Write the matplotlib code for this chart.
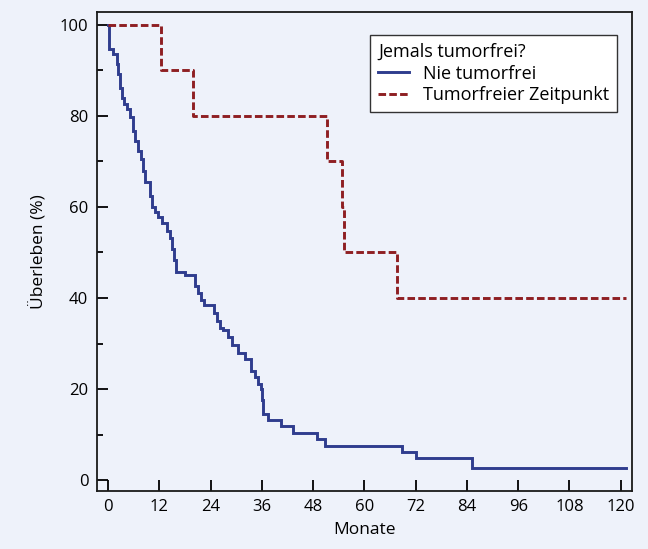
import matplotlib
matplotlib.use("Agg")
import matplotlib.pyplot as plt
from matplotlib.ticker import MultipleLocator

plt.rcParams['font.family'] = ['Open Sans', 'DejaVu Sans']

# Kaplan-Meier survival (%) by month
never_months = [0, 0.3, 1.2, 2.0, 2.4, 2.8, 3.2, 3.7, 4.4, 5.1, 5.9, 6.3, 7.0, 7.8,
                8.2, 8.6, 9.8, 10.2, 11.0, 11.8, 12.6, 13.9, 14.4, 14.9, 15.4, 15.9,
                18.0, 20.3, 21.0, 21.8, 22.4, 24.8, 25.5, 26.3, 27.0, 28.2, 29.0,
                30.4, 32.0, 33.5, 34.4, 35.2, 35.7, 36.0, 36.3, 37.4, 40.6, 43.3,
                48.9, 50.8, 68.7, 72.0, 85.3, 121.2]
never_surv = [100, 94.7, 93.6, 91.4, 89.2, 86.2, 84.0, 82.6, 81.5, 79.7, 76.8, 74.5,
              72.4, 70.5, 68.0, 65.4, 62.5, 60.0, 59.0, 57.8, 56.4, 54.7, 53.2, 50.8,
              48.4, 45.7, 45.0, 42.6, 41.0, 39.5, 38.5, 36.7, 35.0, 33.5, 32.9, 31.4,
              29.6, 27.9, 26.7, 24.0, 22.6, 21.2, 20.0, 17.5, 14.6, 13.3, 11.8, 10.4,
              9.1, 7.5, 6.1, 4.8, 2.6, 2.6]

free_months = [0, 12.3, 19.8, 51.2, 54.8, 55.2, 67.6, 121.2]
free_surv = [100, 90, 80, 70, 60, 50, 40, 40]

x_ticks = [0, 12, 24, 36, 48, 60, 72, 84, 96, 108, 120]
y_ticks = [0, 20, 40, 60, 80, 100]

labels = ["Nie tumorfrei", "Tumorfreier Zeitpunkt"]
legend_title = "Jemals tumorfrei?"

bg = "#eef2fa"
blue = "#2f3d8e"
red = "#8e1f22"

fig = plt.figure(figsize=(6.48, 5.49), dpi=100, facecolor=bg)
ax = fig.add_axes([96.7 / 648, 1 - 491 / 549, (632.3 - 96.7) / 648, (491 - 11.7) / 549])
ax.set_facecolor(bg)

ax.step(never_months, never_surv, where="post", color=blue, lw=2.1,
        label=labels[0], solid_joinstyle="miter")
ax.step(free_months, free_surv, where="post", color=red, lw=2.1,
        linestyle=(0, (2.6, 1.1)), label=labels[1])

ax.set_xlim(-2.64, 122.7)
ax.set_ylim(-2.4, 102.9)
ax.set_xticks(x_ticks)
ax.set_yticks(y_ticks)
ax.yaxis.set_minor_locator(MultipleLocator(10))

ax.tick_params(axis="both", which="major", direction="in", length=8, width=1.3,
               labelsize=12, colors="black", pad=6)
ax.tick_params(axis="y", which="minor", direction="in", length=4, width=1.3)
for s in ax.spines.values():
    s.set_linewidth(1.3)
    s.set_color("#1a1a1a")

ax.set_xlabel("Monate", fontsize=12.5, labelpad=5)
ax.set_ylabel("Überleben (%)", fontsize=12.5, labelpad=9)

leg = ax.legend(title=legend_title, loc="upper right", bbox_to_anchor=(0.9714, 0.9514),
                fontsize=13, title_fontsize=13, frameon=True, fancybox=False,
                edgecolor="#333333", facecolor="white", framealpha=1,
                handlelength=1.7, handletextpad=0.75, borderpad=0.45,
                labelspacing=0.2, alignment="left", borderaxespad=0)
leg.get_frame().set_linewidth(1.0)

fig.savefig("out.png", dpi=100, facecolor=bg)
